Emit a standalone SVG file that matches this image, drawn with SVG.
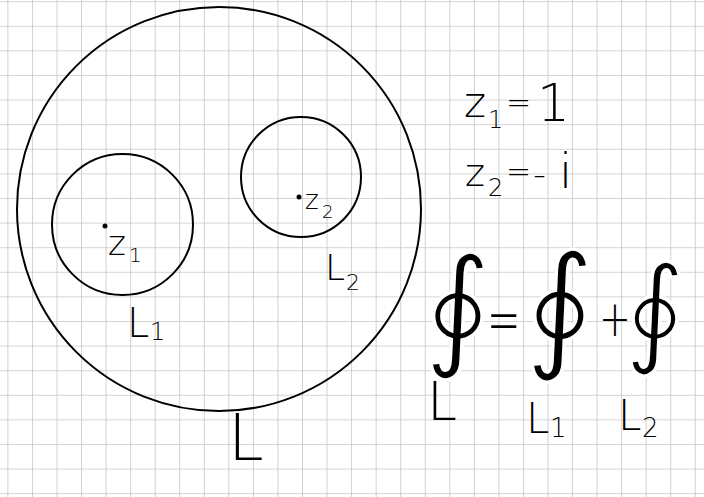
<svg xmlns="http://www.w3.org/2000/svg" width="704" height="497" viewBox="0 0 704 497">
<style>
.c{fill:none;stroke:#000;stroke-width:2}
.h{font-family:"DejaVu Sans",sans-serif;font-weight:200;fill:#000}
.i{font-family:"DejaVu Sans",sans-serif;fill:#000;stroke:#fff;stroke-width:3.4;text-anchor:middle}
</style>
<defs>
<pattern id="grid" patternUnits="userSpaceOnUse" x="7.4" y="1.2" width="24.55" height="24.6">
<path d="M0 0H24.55M0 0V24.6" fill="none" stroke="#c6c6c6" stroke-width="1.6"/>
</pattern>
</defs>
<rect width="704" height="497" fill="#fff"/>
<rect width="704" height="497" fill="url(#grid)"/>
<g id="contour-L"><circle class="c" cx="219" cy="209" r="202"/><text class="h" x="228" y="460" font-size="64">L</text></g>
<g id="contour-L1"><circle class="c" cx="122.5" cy="224.5" r="70.5"/><text class="h"><tspan x="127" y="337" font-size="40">L</tspan><tspan x="150" y="340" font-size="24">1</tspan></text></g>
<g id="contour-L2"><circle class="c" cx="301" cy="177" r="60"/><text class="h"><tspan x="325" y="280" font-size="36">L</tspan><tspan x="346" y="290" font-size="22">2</tspan></text></g>
<g id="point-z1"><circle cx="105" cy="226" r="2.5"/><text class="h"><tspan x="108" y="255" font-size="34">z</tspan><tspan x="129" y="262" font-size="20">1</tspan></text></g>
<g id="point-z2"><circle cx="299" cy="197" r="2.5"/><text class="h"><tspan x="305" y="209" font-size="26">z</tspan><tspan x="322" y="218" font-size="18">2</tspan></text></g>
<g id="values">
<text class="h"><tspan x="464" y="117" font-size="42">z</tspan><tspan x="488" y="128" font-size="24">1</tspan><tspan x="506" y="113" font-size="30">=</tspan><tspan x="537" y="121" font-size="52">1</tspan></text>
<text class="h"><tspan x="465" y="186" font-size="38">z</tspan><tspan x="488" y="196" font-size="24">2</tspan><tspan x="506" y="182" font-size="30">=</tspan><tspan x="533" y="186" font-size="36">-</tspan><tspan x="559" y="188" font-size="48">i</tspan></text>
</g>
<g id="equation">
<text class="i" x="458" y="352" font-size="132">∮</text>
<text class="h" transform="translate(487,342.6) scale(1,1.74)" font-size="40">=</text>
<text class="i" x="560" y="353" font-size="137">∮</text>
<text class="h" transform="translate(599,336) scale(1,1.3)" font-size="38">+</text>
<text class="i" x="655" y="351" font-size="119">∮</text>
<text class="h" x="427" y="420" font-size="54">L</text>
<text class="h"><tspan x="526" y="433" font-size="42">L</tspan><tspan x="550" y="437" font-size="26">1</tspan></text>
<text class="h"><tspan x="618" y="430" font-size="42">L</tspan><tspan x="642" y="437" font-size="26">2</tspan></text>
</g>
</svg>
